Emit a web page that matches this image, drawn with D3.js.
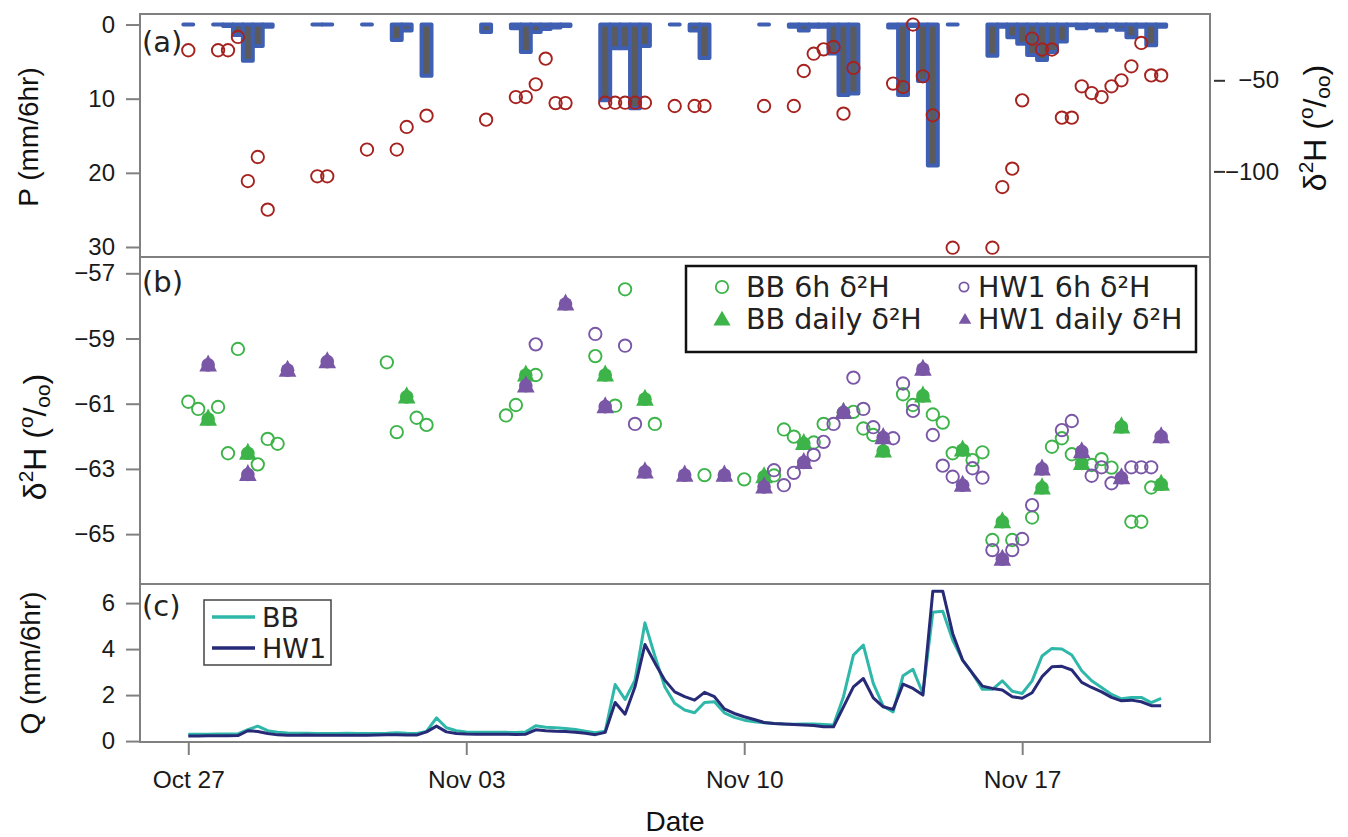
<!DOCTYPE html>
<html><head><meta charset="utf-8">
<script src="https://cdn.jsdelivr.net/npm/d3@7"></script>
<style>body{margin:0;background:#fff}svg{display:block}</style>
</head><body>
<svg id="chart" width="1348" height="837"></svg>
<script>
// ---------------- DATA ----------------
// time origin: Oct 27 00:00; "steps" are 6-hour intervals, "days" are daily samples (noon)
const startDate = "2016-10-27";
// (a) precipitation, mm/6hr, bars centred on 6-hourly timestamps
const precipSteps = [0, 3,4,5,6,7,8, 13,14, 18, 21,22, 24, 30, 33,34,35,36,37,38, 42,43,44,45,46, 49, 51,52, 58,
  61,62,63,64,65,66,67, 71,72,73,74,75, 77,
  81,82,83,84,85,86,87,88,89,90,91,92,93,94,95,96,97,98];
const precipValues = [0, 0,0.2,1.4,4.9,2.9,0.3, 0,0, 0, 2.1,0.8, 6.9, 1.0, 0.5,3.7,1.0,0.6,0.4,0.2, 10.2,3.2,3.2,11.3,2.9, 0, 0.8,4.5, 0,
  0.3,0.8,0.3,0.3,3.9,9.5,9.3, 0.4,9.5,0.2,7.6,19.0, 0,
  4.2,0.3,1.7,2.6,4.1,4.8,3.7,2.3,0.1,0.5,0.3,0.8,0.3,0.7,1.7,0.3,2.8,0.3];
// (a) precipitation δ2H (‰)
const rainIsoSteps = [0,3,4,5,6,7,8,13,14,18,21,22,24,30,33,34,35,36,37,38,42,43,44,45,46,49,51,52,58,61,62,63,64,65,66,67,
  71,72,73,74,75,77,81,82,83,84,85,86,87,88,89,90,91,92,93,94,95,96,97,98];
const rainIsoValues = [-33.5,-33.5,-33.5,-26.2,-105.3,-92.1,-121,-102.7,-102.7,-88,-88,-75.6,-69.4,-71.6,-59.2,-59.2,-52.2,-38.1,-62.5,-62.5,
  -62.3,-62.3,-62.3,-62.3,-62.3,-64.1,-64.1,-64.1,-64.1,-64.1,-44.9,-35.4,-33,-31.7,-68.3,-43.2,
  -51.8,-53.7,-19.4,-47.8,-69.2,-141.9,-141.9,-108.6,-98.5,-61,-27.1,-33.1,-33.1,-70.5,-70.5,-53.3,-57,-59.2,-53.3,-50,-42.3,-29.5,-47.3,-47.3];
// (b) stream water δ2H (‰)
const bb6hSteps = [0,1,3,4,5,7,8,9,20,21,23,24,32,33,35,41,43,44,47,52,56,59,60,61,63,64,67,68,69,72,73,75,76,77,79,80,81,83,85,87,88,89,91,92,93,95,96,97];
const bb6hValues = [-60.94,-61.16,-61.1,-62.52,-59.32,-62.86,-62.08,-62.23,-59.73,-61.87,-61.43,-61.65,-61.36,-61.04,-60.12,-59.54,-61.06,-57.49,-61.62,-63.19,-63.32,-63.2,-61.79,-62.01,-62.19,-61.62,-61.25,-61.76,-61.96,-60.71,-61.04,-61.33,-61.58,-62.52,-62.73,-62.49,-65.18,-65.18,-64.49,-62.32,-62.06,-62.55,-62.88,-62.7,-62.96,-64.62,-64.62,-63.57];
const hw6hSteps = [35,41,44,45,59,60,61,63,64,65,67,68,69,71,72,73,75,76,77,79,80,81,83,84,85,88,89,91,92,93,95,96,97];
const hw6hValues = [-59.18,-58.86,-59.22,-61.62,-63.04,-63.5,-63.12,-62.57,-62.17,-61.62,-60.2,-61.16,-61.72,-62.06,-60.38,-61.22,-61.96,-62.9,-63.24,-62.98,-63.27,-65.49,-65.49,-65.15,-64.11,-61.81,-61.53,-63.21,-62.95,-63.44,-62.95,-62.95,-62.95];
const bbDailyDays = [0,1,5,8,10,11,14,15,16,17,18,19,20,21,22,23,24];
const bbDailyValues = [-61.47,-62.52,-60.79,-60.12,-60.12,-60.86,-63.24,-62.22,-61.27,-62.45,-60.76,-62.42,-64.62,-63.58,-62.83,-61.71,-63.47];
const hwDailyDays = [0,1,2,3,8,9,10,11,12,13,14,15,16,17,18,19,20,21,22,23,24];
const hwDailyValues = [-59.81,-63.17,-59.97,-59.71,-60.45,-57.94,-61.09,-63.09,-63.19,-63.19,-63.55,-62.8,-61.27,-62.04,-59.94,-63.5,-65.77,-63.0,-62.47,-63.27,-62.01];
// (c) discharge, mm/6hr, 6-hourly from step 0
const qBB = [0.30,0.30,0.30,0.31,0.31,0.31,0.50,0.65,0.45,0.38,0.35,0.34,0.34,0.33,0.33,0.33,0.34,0.33,0.33,0.33,
  0.34,0.36,0.34,0.33,0.42,1.01,0.58,0.45,0.40,0.38,0.38,0.38,0.38,0.37,0.40,0.67,0.60,0.58,0.55,0.50,
  0.43,0.36,0.43,2.46,1.81,2.65,5.14,3.70,2.36,1.64,1.35,1.23,1.68,1.71,1.23,1.03,0.91,0.84,0.80,0.76,
  0.74,0.73,0.74,0.74,0.72,0.70,1.93,3.74,4.17,2.51,1.52,1.27,2.84,3.12,2.07,5.60,5.65,4.39,3.52,2.94,
  2.25,2.25,2.62,2.17,2.07,2.62,3.70,4.03,4.00,3.74,3.06,2.62,2.33,2.03,1.84,1.90,1.90,1.67,1.86];
const qHW1 = [0.22,0.22,0.23,0.23,0.23,0.24,0.45,0.42,0.33,0.27,0.25,0.25,0.26,0.25,0.25,0.25,0.25,0.25,0.25,0.26,
  0.27,0.27,0.26,0.26,0.40,0.65,0.40,0.33,0.31,0.30,0.30,0.30,0.30,0.29,0.30,0.49,0.45,0.43,0.42,0.38,
  0.34,0.28,0.38,1.68,1.17,2.36,4.20,3.40,2.65,2.14,1.93,1.78,2.12,1.93,1.40,1.20,1.06,0.94,0.81,0.76,
  0.74,0.72,0.70,0.68,0.62,0.62,1.49,2.36,2.72,1.88,1.49,1.38,2.48,2.29,2.00,6.52,6.52,4.68,3.52,2.94,
  2.39,2.29,2.22,1.93,1.86,2.10,2.80,3.23,3.25,3.09,2.55,2.33,2.14,1.90,1.75,1.78,1.71,1.54,1.54];
const dateTicks = ["2016-10-27","2016-11-03","2016-11-10","2016-11-17"];
const pTicks = [0,10,20,30];
const rainIsoTicks = [-50,-100];
const streamIsoTicks = [-57,-59,-61,-63,-65];
const qTicks = [0,2,4,6];

// ---------------- HELPERS ----------------
const T0 = Date.parse(startDate + "T00:00:00Z");
const H = 3600e3, D = 86400e3;
const stepTime = s => new Date(T0 + s*6*H);
const dayTime = d => new Date(T0 + (d+0.5)*D);

const svg = d3.select("#chart");
const L = 140, R = 1210;
const A = {top:14, bot:257}, B = {top:257, bot:584}, C = {top:584, bot:742};

const x = d3.scaleUtc().domain([new Date(T0 - 1.216*D), new Date(T0 + 25.73*D)]).range([L, R]);
const yP = d3.scaleLinear().domain([-1.42, 31.35]).range([A.top, A.bot]);
const yRainIso = d3.scaleLinear().domain([-13.6, -147]).range([A.top, A.bot]);
const yB = d3.scaleLinear().domain([-56.5, -66.53]).range([B.top, B.bot]);
const yQ = d3.scaleLinear().domain([-0.04, 6.83]).range([C.bot, C.top]);

const TICKFONT = "'Liberation Sans', Arial, sans-serif";
const LABFONT = "'Liberation Sans', Arial, sans-serif";
const DVFONT = "'DejaVu Sans', sans-serif";
const grey = "#808080";
const green = "#3db449", purple = "#7a57a6", red = "#a5221f";

function styleAxis(g, fs){
  g.select(".domain").remove();
  g.selectAll(".tick line").attr("stroke", grey).attr("stroke-width", 2);
  g.selectAll(".tick text").attr("font-family", TICKFONT).attr("font-size", fs).attr("fill", "#1a1a1a");
}
const fmtNum = d => d < 0 ? "\u2212" + Math.abs(d) : String(d);

// clip paths
const defs = svg.append("defs");
[["clipA",A],["clipB",B],["clipC",C]].forEach(([id,p])=>{
  defs.append("clipPath").attr("id",id).append("rect").attr("x",L).attr("y",p.top).attr("width",R-L).attr("height",p.bot-p.top);
});

// ---------------- PANEL (a) ----------------
const gA = svg.append("g").attr("clip-path","url(#clipA)");
const bars = precipSteps.map((s,i)=>({s, v: precipValues[i]}));
gA.selectAll("path.bar").data(bars).join("path").attr("class","bar")
  .attr("d", d => {
    const x0 = x(stepTime(d.s-0.5)), x1 = x(stepTime(d.s+0.5));
    const y0 = yP(0), y1 = yP(d.v);
    return `M${x0},${y0}L${x0},${y1}L${x1},${y1}L${x1},${y0}Z`;
  })
  .attr("fill","#5b5b5b").attr("stroke","#3f5fb2").attr("stroke-width",4).attr("stroke-linejoin","round");
gA.selectAll("circle.ri").data(rainIsoSteps.map((s,i)=>({s,v:rainIsoValues[i]}))).join("circle")
  .attr("cx", d=>x(stepTime(d.s))).attr("cy", d=>yRainIso(d.v)).attr("r",6.2)
  .attr("fill","none").attr("stroke",red).attr("stroke-width",1.9);

// ---------------- PANEL (b) ----------------
const gB = svg.append("g").attr("clip-path","url(#clipB)");
function openCircles(steps, vals, col){
  gB.append("g").selectAll("circle").data(steps.map((s,i)=>({s,v:vals[i]}))).join("circle")
    .attr("cx", d=>x(stepTime(d.s))).attr("cy", d=>yB(d.v)).attr("r",6.2)
    .attr("fill","none").attr("stroke",col).attr("stroke-width",1.9);
}
const bellPath = "M0,-10.5L8.8,6.6L-8.8,6.6Z";
function bells(days, vals, col){
  const g = gB.append("g").selectAll("g").data(days.map((d,i)=>({d,v:vals[i]}))).join("g")
    .attr("transform", d=>`translate(${x(dayTime(d.d))},${yB(d.v)})`);
  g.append("circle").attr("r",6.8).attr("fill",col);
  g.append("path").attr("d",bellPath).attr("fill",col);
}
openCircles(bb6hSteps, bb6hValues, green);
bells(bbDailyDays, bbDailyValues, green);
openCircles(hw6hSteps, hw6hValues, purple);
bells(hwDailyDays, hwDailyValues, purple);

// ---------------- PANEL (c) ----------------
const gC = svg.append("g").attr("clip-path","url(#clipC)");
const line = d3.line().x((d,i)=>x(stepTime(i))).y(d=>yQ(d));
gC.append("path").attr("d", line(qBB)).attr("fill","none").attr("stroke","#2fb8aa").attr("stroke-width",3).attr("stroke-linejoin","round");
gC.append("path").attr("d", line(qHW1)).attr("fill","none").attr("stroke","#272a76").attr("stroke-width",3).attr("stroke-linejoin","round");

// ---------------- FRAMES ----------------
[A,B,C].forEach(p=>{
  svg.append("rect").attr("x",L).attr("y",p.top).attr("width",R-L).attr("height",p.bot-p.top)
    .attr("fill","none").attr("stroke",grey).attr("stroke-width",2);
});

// ---------------- AXES ----------------
const axP = svg.append("g").attr("transform",`translate(${L-1},0)`)
  .call(d3.axisLeft(yP).tickValues(pTicks).tickSize(13).tickPadding(11).tickFormat(fmtNum));
styleAxis(axP, 24);
const axRI = svg.append("g").attr("transform",`translate(${R},0)`)
  .call(d3.axisRight(yRainIso).tickValues(rainIsoTicks).tickSize(15).tickFormat(fmtNum));
styleAxis(axRI, 24);
axRI.selectAll(".tick line").attr("x1",4).attr("stroke","#333");
axRI.selectAll(".tick text").attr("text-anchor","end").attr("x",69);
const axB = svg.append("g").attr("transform",`translate(${L-1},0)`)
  .call(d3.axisLeft(yB).tickValues(streamIsoTicks).tickSize(13).tickPadding(11).tickFormat(fmtNum));
styleAxis(axB, 24);
const axQ = svg.append("g").attr("transform",`translate(${L-1},0)`)
  .call(d3.axisLeft(yQ).tickValues(qTicks).tickSize(13).tickPadding(11).tickFormat(fmtNum));
styleAxis(axQ, 24);
const axX = svg.append("g").attr("transform",`translate(0,${C.bot})`)
  .call(d3.axisBottom(x).tickValues(dateTicks.map(s=>new Date(Date.parse(s+"T00:00:00Z")))).tickSize(13).tickPadding(16).tickFormat(d3.utcFormat("%b %d")));
styleAxis(axX, 24.5);

// ---------------- LABELS ----------------
function isoLabel(tx, ty, fs){
  const t = svg.append("text").attr("transform",`translate(${tx},${ty}) rotate(-90)`)
    .attr("text-anchor","middle").attr("font-family",LABFONT).attr("font-size",fs).attr("fill","#111");
  const sm = fs*0.65;
  t.append("tspan").text("\u03b4");
  t.append("tspan").attr("font-size",sm).attr("dy",-fs*0.42).text("2");
  t.append("tspan").attr("dy",fs*0.42).text("H (");
  t.append("tspan").attr("font-size",sm).attr("dy",-fs*0.42).text("o");
  t.append("tspan").attr("dy",fs*0.42).text("/");
  t.append("tspan").attr("font-size",sm).attr("dy",fs*0.12).text("oo");
  t.append("tspan").attr("dy",-fs*0.12).text(")");
}
function vLabel(tx, ty, s, fs){
  svg.append("text").attr("transform",`translate(${tx},${ty}) rotate(-90)`).attr("text-anchor","middle")
    .attr("font-family",LABFONT).attr("font-size",fs).attr("fill","#111").text(s);
}
vLabel(38, 137, "P (mm/6hr)", 28);
isoLabel(1326, 128, 32);
isoLabel(46, 437, 32);
vLabel(40, 663, "Q (mm/6hr)", 28);
svg.append("text").attr("x",675).attr("y",831).attr("text-anchor","middle").attr("font-family",LABFONT)
  .attr("font-size",28).attr("fill","#111").text("Date");

[["(a)",52],["(b)",292],["(c)",616]].forEach(([s,yy])=>{
  svg.append("text").attr("x",142).attr("y",yy).attr("font-family",DVFONT).attr("font-size",29).attr("fill","#222").text(s);
});

// ---------------- LEGEND (b) ----------------
const lg = svg.append("g");
lg.append("rect").attr("x",686).attr("y",266).attr("width",510).attr("height",86).attr("fill","#fff").attr("stroke","#111").attr("stroke-width",2.5);
const legendItems = [
  {lab:"BB 6h \u03b4\u00b2H", col:green, kind:"circle", r:6.2, mx:722, tx:746, y:287},
  {lab:"BB daily \u03b4\u00b2H", col:green, kind:"tri", w:8.6, mx:722, tx:746, y:319},
  {lab:"HW1 6h \u03b4\u00b2H", col:purple, kind:"circle", r:4.6, mx:964, tx:978, y:287},
  {lab:"HW1 daily \u03b4\u00b2H", col:purple, kind:"tri", w:6.3, mx:965, tx:978, y:319}
];
legendItems.forEach(it=>{
  if(it.kind==="circle") lg.append("circle").attr("cx",it.mx).attr("cy",it.y).attr("r",it.r).attr("fill","none").attr("stroke",it.col).attr("stroke-width",1.8);
  else lg.append("path").attr("d",`M${it.mx},${it.y-it.w*0.95}L${it.mx+it.w},${it.y+it.w*0.75}L${it.mx-it.w},${it.y+it.w*0.75}Z`).attr("fill",it.col);
  lg.append("text").attr("x",it.tx).attr("y",it.y+10).attr("font-family",DVFONT).attr("font-size",28.5).attr("fill","#222").text(it.lab);
});

// ---------------- LEGEND (c) ----------------
const lc = svg.append("g");
lc.append("rect").attr("x",204).attr("y",600).attr("width",127).attr("height",65).attr("fill","#fff").attr("stroke","#444").attr("stroke-width",1.5);
[["BB","#2fb8aa",617],["HW1","#272a76",648]].forEach(([s,c,yy])=>{
  lc.append("line").attr("x1",212).attr("x2",255).attr("y1",yy).attr("y2",yy).attr("stroke",c).attr("stroke-width",3.5);
  lc.append("text").attr("x",262).attr("y",yy+10).attr("font-family",DVFONT).attr("font-size",27).attr("fill","#222").text(s);
});
</script>
</body></html>
